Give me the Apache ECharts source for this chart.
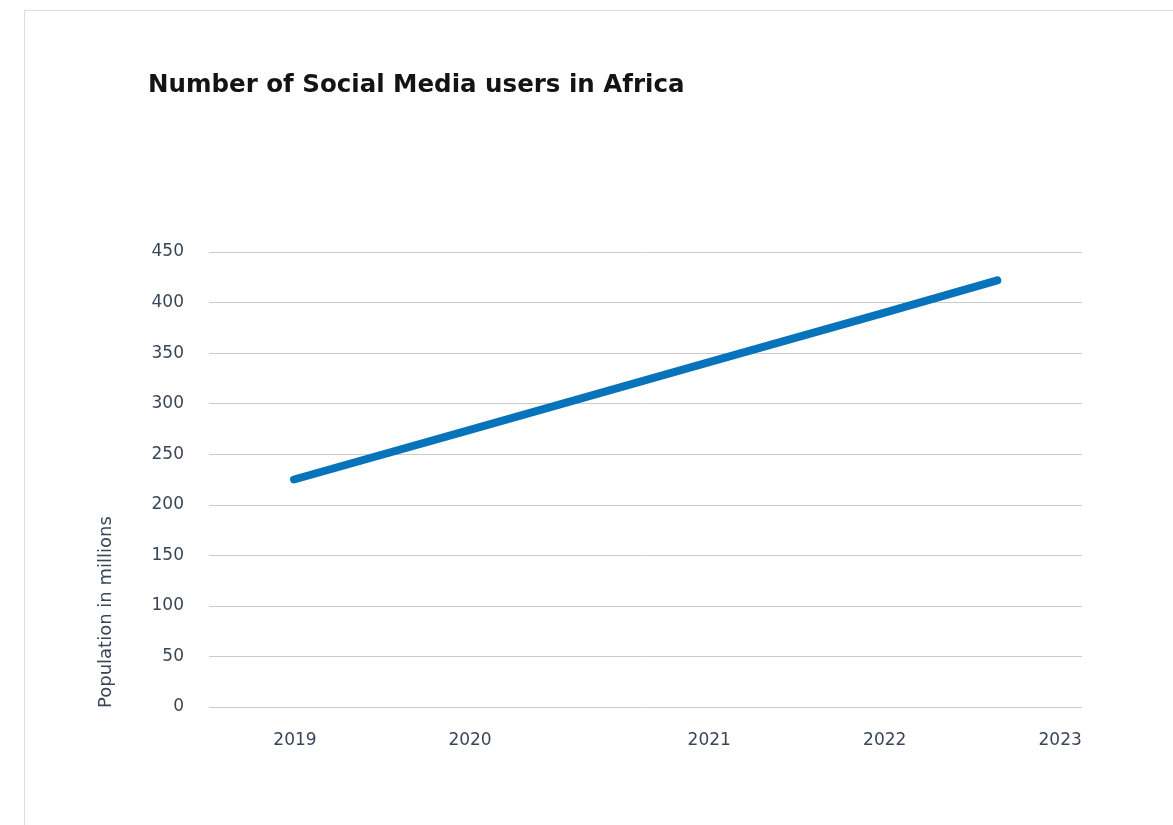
<!DOCTYPE html>
<html>
<head>
<meta charset="utf-8">
<title>Number of Social Media users in Africa</title>
<script src="https://cdn.jsdelivr.net/npm/echarts@6/dist/echarts.min.js"></script>
<style>
  html, body { margin: 0; padding: 0; background: #ffffff; }
  #chart { width: 1173px; height: 825px; }
</style>
</head>
<body>
<div id="chart"></div>
<script>
// Year labels along the timeline and where each sits on the axis (0–100 span)
const years = ['2019', '2020', '2021', '2022', '2023'];
const yearPositions = [9.85, 29.9, 57.3, 77.4, 97.5];

// Social media users (millions) at timeline positions
const userPositions = [9.74, 29.9, 57.3, 77.4, 90.3];
const userValues = [225, 274, 341, 390, 422];

// Y-axis tick values
const yTicks = [0, 50, 100, 150, 200, 250, 300, 350, 400, 450];

const labelColor = '#3a4657';
const font = '"DejaVu Sans", Inter, sans-serif';

const chart = echarts.init(document.getElementById('chart'), null, { renderer: 'canvas' });

chart.setOption({
  backgroundColor: '#ffffff',
  animation: false,
  title: {
    text: 'Number of Social Media users in Africa',
    left: 143,
    top: 68,
    textStyle: { fontFamily: font, fontSize: 24.5, fontWeight: 'bold', color: '#141414' }
  },
  graphic: [
    {
      type: 'rect',
      silent: true,
      shape: { x: 24.5, y: 10.5, width: 1300, height: 1000 },
      style: { fill: 'none', stroke: '#dcdcdc', lineWidth: 1 }
    },
    {
      type: 'text',
      silent: true,
      x: 106,
      y: 708,
      rotation: Math.PI / 2,
      style: {
        text: 'Population in millions',
        fontFamily: font,
        fontSize: 18,
        fontWeight: 'normal',
        fill: labelColor,
        align: 'left',
        verticalAlign: 'middle'
      }
    }
  ],
  grid: { left: 209, right: 91, top: 252, bottom: 118, containLabel: false },
  xAxis: {
    type: 'value',
    min: 0,
    max: 100,
    axisLine: { show: false },
    axisTick: { show: false },
    splitLine: { show: false },
    axisLabel: {
      customValues: yearPositions,
      formatter: function (v) {
        const i = yearPositions.indexOf(v);
        return i >= 0 ? years[i] : '';
      },
      margin: 25,
      fontFamily: font,
      fontSize: 17,
      fontWeight: 'normal',
      color: labelColor
    }
  },
  yAxis: {
    type: 'value',
    min: yTicks[0],
    max: yTicks[yTicks.length - 1],
    interval: 50,
    axisLine: { show: false },
    axisTick: { show: false },
    splitLine: { lineStyle: { color: '#cccccc', width: 1 } },
    axisLabel: {
      margin: 25,
      padding: [5, 0, 0, 0],
      fontFamily: font,
      fontSize: 17,
      fontWeight: 'normal',
      color: labelColor
    }
  },
  series: [
    {
      type: 'line',
      data: userPositions.map((p, i) => [p, userValues[i]]),
      showSymbol: false,
      symbol: 'none',
      lineStyle: { color: '#0673ba', width: 8, cap: 'round', join: 'round' }
    }
  ]
});
</script>
</body>
</html>
